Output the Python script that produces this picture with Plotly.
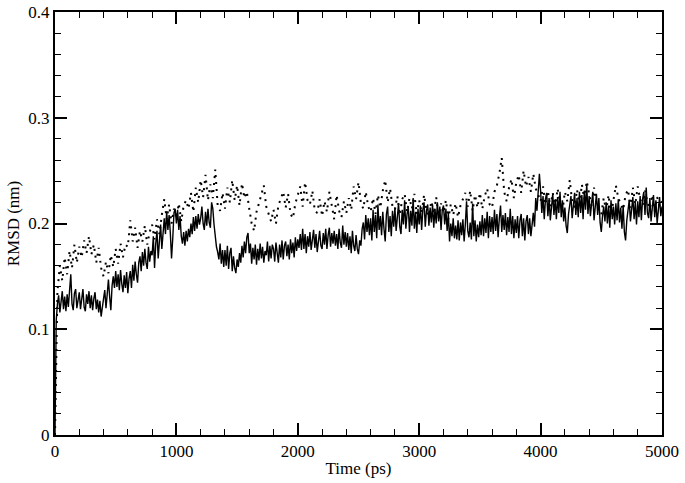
import plotly.graph_objects as go

# time axis (ps)
time_solid = list(range(0, 5001, 10))
time_dotted = list(range(0, 5001, 20))

# RMSD (nm), solid curve, every 10 ps
rmsd_solid = [
    0.000, 0.108, 0.124, 0.132, 0.116, 0.129, 0.136, 0.119, 0.131, 0.117,
    0.133, 0.121, 0.137, 0.152, 0.124, 0.118, 0.134, 0.138, 0.120, 0.130,
    0.135, 0.119, 0.131, 0.138, 0.121, 0.117, 0.133, 0.124, 0.136, 0.120,
    0.132, 0.118, 0.129, 0.135, 0.119, 0.128, 0.116, 0.127, 0.112, 0.124,
    0.129, 0.137, 0.120, 0.133, 0.147, 0.131, 0.118, 0.141, 0.150, 0.139,
    0.155, 0.140, 0.152, 0.137, 0.156, 0.143, 0.135, 0.151, 0.139, 0.154,
    0.134, 0.148, 0.155, 0.139, 0.161, 0.146, 0.164, 0.152, 0.144, 0.163,
    0.169, 0.155, 0.173, 0.160, 0.176, 0.163, 0.157, 0.178, 0.164, 0.174,
    0.170, 0.188, 0.158, 0.181, 0.193, 0.167, 0.186, 0.199, 0.176, 0.196,
    0.205, 0.190, 0.211, 0.194, 0.208, 0.191, 0.167, 0.186, 0.210, 0.214,
    0.200, 0.213, 0.194, 0.207, 0.188, 0.181, 0.192, 0.179, 0.193, 0.183,
    0.195, 0.187, 0.200, 0.190, 0.206, 0.193, 0.207, 0.195, 0.209, 0.199,
    0.205, 0.216, 0.200, 0.194, 0.211, 0.198, 0.214, 0.201, 0.196, 0.220,
    0.214, 0.199, 0.186, 0.178, 0.173, 0.166, 0.181, 0.162, 0.175, 0.159,
    0.175, 0.160, 0.179, 0.157, 0.172, 0.177, 0.155, 0.169, 0.158, 0.153,
    0.166, 0.159, 0.172, 0.163, 0.179, 0.168, 0.183, 0.172, 0.187, 0.191,
    0.172, 0.181, 0.162, 0.177, 0.166, 0.180, 0.161, 0.176, 0.165, 0.181,
    0.167, 0.178, 0.163, 0.174, 0.170, 0.183, 0.164, 0.179, 0.167, 0.180,
    0.176, 0.164, 0.182, 0.170, 0.163, 0.180, 0.168, 0.184, 0.166, 0.179,
    0.183, 0.169, 0.180, 0.166, 0.185, 0.172, 0.182, 0.168, 0.187, 0.174,
    0.185, 0.177, 0.190, 0.175, 0.195, 0.176, 0.190, 0.172, 0.188, 0.178,
    0.192, 0.175, 0.188, 0.194, 0.177, 0.190, 0.173, 0.187, 0.193, 0.179,
    0.176, 0.191, 0.180, 0.195, 0.176, 0.189, 0.196, 0.178, 0.191, 0.181,
    0.193, 0.179, 0.190, 0.176, 0.195, 0.182, 0.177, 0.198, 0.180, 0.192,
    0.178, 0.191, 0.175, 0.188, 0.172, 0.193, 0.179, 0.174, 0.189, 0.176,
    0.171, 0.184, 0.179, 0.195, 0.201, 0.185, 0.208, 0.192, 0.205, 0.189,
    0.205, 0.184, 0.213, 0.192, 0.208, 0.186, 0.218, 0.194, 0.207, 0.189,
    0.211, 0.195, 0.183, 0.209, 0.216, 0.192, 0.207, 0.188, 0.212, 0.197,
    0.215, 0.193, 0.210, 0.219, 0.197, 0.190, 0.213, 0.199, 0.222, 0.195,
    0.209, 0.216, 0.192, 0.212, 0.198, 0.224, 0.195, 0.211, 0.191, 0.214,
    0.199, 0.217, 0.194, 0.213, 0.220, 0.197, 0.212, 0.218, 0.198, 0.215,
    0.201, 0.218, 0.196, 0.214, 0.200, 0.220, 0.202, 0.216, 0.194, 0.213,
    0.217, 0.199, 0.214, 0.193, 0.210, 0.183, 0.200, 0.188, 0.205, 0.186,
    0.198, 0.185, 0.203, 0.184, 0.201, 0.189, 0.204, 0.183, 0.199, 0.221,
    0.193, 0.187, 0.201, 0.185, 0.219, 0.188, 0.203, 0.183, 0.199, 0.187,
    0.202, 0.189, 0.208, 0.188, 0.205, 0.191, 0.211, 0.186, 0.207, 0.192,
    0.206, 0.190, 0.213, 0.193, 0.209, 0.187, 0.205, 0.217, 0.192, 0.208,
    0.194, 0.210, 0.189, 0.206, 0.192, 0.214, 0.190, 0.207, 0.186, 0.204,
    0.191, 0.207, 0.186, 0.203, 0.209, 0.188, 0.205, 0.184, 0.202, 0.208,
    0.190, 0.205, 0.188, 0.203, 0.210, 0.197, 0.224, 0.212, 0.233, 0.247,
    0.231, 0.210, 0.226, 0.204, 0.223, 0.229, 0.207, 0.224, 0.203, 0.221,
    0.228, 0.208, 0.223, 0.204, 0.225, 0.210, 0.230, 0.206, 0.222, 0.202,
    0.215, 0.198, 0.191, 0.209, 0.218, 0.226, 0.205, 0.222, 0.229, 0.208,
    0.224, 0.206, 0.230, 0.210, 0.227, 0.204, 0.231, 0.213, 0.237, 0.209,
    0.226, 0.207, 0.223, 0.230, 0.203, 0.220, 0.228, 0.208, 0.224, 0.201,
    0.192, 0.207, 0.216, 0.202, 0.220, 0.200, 0.217, 0.196, 0.222, 0.204,
    0.216, 0.199, 0.219, 0.203, 0.223, 0.201, 0.215, 0.195, 0.217, 0.192,
    0.184, 0.203, 0.214, 0.222, 0.202, 0.218, 0.225, 0.204, 0.220, 0.199,
    0.221, 0.206, 0.226, 0.203, 0.223, 0.230, 0.208, 0.234, 0.210, 0.205,
    0.224, 0.202, 0.220, 0.227, 0.206, 0.222, 0.200, 0.218, 0.225, 0.207,
    0.216,
]

# RMSD (nm), dotted curve, every 20 ps
rmsd_dotted = [
    0.000, 0.136, 0.160, 0.146, 0.168,
    0.152, 0.174, 0.158, 0.180, 0.163,
    0.178, 0.168, 0.184, 0.172, 0.188,
    0.171, 0.180, 0.163, 0.177, 0.158,
    0.150, 0.164, 0.153, 0.170, 0.159,
    0.176, 0.162, 0.181, 0.168, 0.180,
    0.178, 0.203, 0.183, 0.196, 0.177,
    0.193, 0.183, 0.198, 0.180, 0.192,
    0.199, 0.185, 0.204, 0.190, 0.208,
    0.223, 0.204, 0.218, 0.200, 0.214,
    0.205, 0.219, 0.202, 0.217, 0.222,
    0.214, 0.229, 0.211, 0.234, 0.220,
    0.241, 0.225, 0.246, 0.222, 0.237,
    0.224, 0.251, 0.217, 0.212, 0.229,
    0.214, 0.234, 0.220, 0.241, 0.222,
    0.236, 0.217, 0.238, 0.224, 0.230,
    0.214, 0.200, 0.193, 0.211, 0.219,
    0.229, 0.236, 0.216, 0.210, 0.202,
    0.213, 0.200, 0.217, 0.224, 0.230,
    0.215, 0.228, 0.209, 0.205, 0.219,
    0.227, 0.235, 0.216, 0.239, 0.222,
    0.218, 0.231, 0.212, 0.210, 0.223,
    0.207, 0.221, 0.211, 0.230, 0.217,
    0.204, 0.227, 0.212, 0.206, 0.221,
    0.210, 0.224, 0.213, 0.235, 0.223,
    0.239, 0.219, 0.214, 0.230, 0.216,
    0.211, 0.224, 0.209, 0.227, 0.215,
    0.231, 0.241, 0.220, 0.233, 0.216,
    0.213, 0.226, 0.208, 0.223, 0.228,
    0.211, 0.224, 0.214, 0.228, 0.209,
    0.222, 0.210, 0.227, 0.213, 0.207,
    0.221, 0.209, 0.225, 0.205, 0.219,
    0.210, 0.222, 0.204, 0.218, 0.208,
    0.219, 0.206, 0.217, 0.223, 0.229,
    0.216, 0.231, 0.212, 0.227, 0.215,
    0.229, 0.214, 0.226, 0.233, 0.218,
    0.215, 0.230, 0.236, 0.247, 0.262,
    0.230, 0.221, 0.234, 0.242, 0.224,
    0.239, 0.246, 0.229, 0.250, 0.235,
    0.244, 0.230, 0.247, 0.233, 0.226,
    0.221, 0.235, 0.218, 0.231, 0.216,
    0.229, 0.215, 0.233, 0.219, 0.212,
    0.230, 0.221, 0.241, 0.221, 0.215,
    0.232, 0.218, 0.237, 0.223, 0.240,
    0.228, 0.216, 0.234, 0.219, 0.213,
    0.209, 0.224, 0.212, 0.227, 0.207,
    0.222, 0.236, 0.224, 0.219, 0.213,
    0.227, 0.232, 0.215, 0.234, 0.218,
    0.235, 0.223, 0.217, 0.231, 0.220,
    0.214, 0.227, 0.212, 0.225, 0.216,
    0.221,
]

font_name = "Liberation Serif, Times New Roman, serif"

fig = go.Figure()
fig.add_trace(go.Scatter(
    x=time_dotted, y=rmsd_dotted, mode="lines",
    line=dict(color="black", width=2, dash="2px,5px"),
))
fig.add_trace(go.Scatter(
    x=time_solid, y=rmsd_solid, mode="lines",
    line=dict(color="black", width=1.4),
))

axis_common = dict(
    showline=True, linecolor="black", linewidth=2, mirror="ticks",
    ticks="inside", tickcolor="black", tickwidth=1.5, ticklen=12,
    showgrid=False, zeroline=False, automargin=False,
    tickfont=dict(family=font_name, size=17, color="black"),
)

fig.update_layout(
    width=685, height=483,
    margin=dict(l=55, r=23, t=12, b=48),
    paper_bgcolor="white", plot_bgcolor="white",
    showlegend=False,
    font=dict(family=font_name, size=17, color="black"),
    xaxis=dict(
        range=[0, 5000], dtick=1000, tick0=0,
        minor=dict(ticks="inside", dtick=200, ticklen=6, tickcolor="black", tickwidth=1.2),
        title=dict(text="Time (ps)", font=dict(family=font_name, size=17), standoff=2),
        **axis_common,
    ),
    yaxis=dict(
        range=[0, 0.4], dtick=0.1, tick0=0,
        minor=dict(ticks="inside", dtick=0.02, ticklen=6, tickcolor="black", tickwidth=1.2),
        title=dict(text="RMSD (nm)", font=dict(family=font_name, size=17), standoff=4),
        **axis_common,
    ),
)

# the page body has a default 8px margin; drop it so the figure fills the window
fig.write_html("out.html", config={"displayModeBar": False},
               post_script="document.body.style.margin='0';")
